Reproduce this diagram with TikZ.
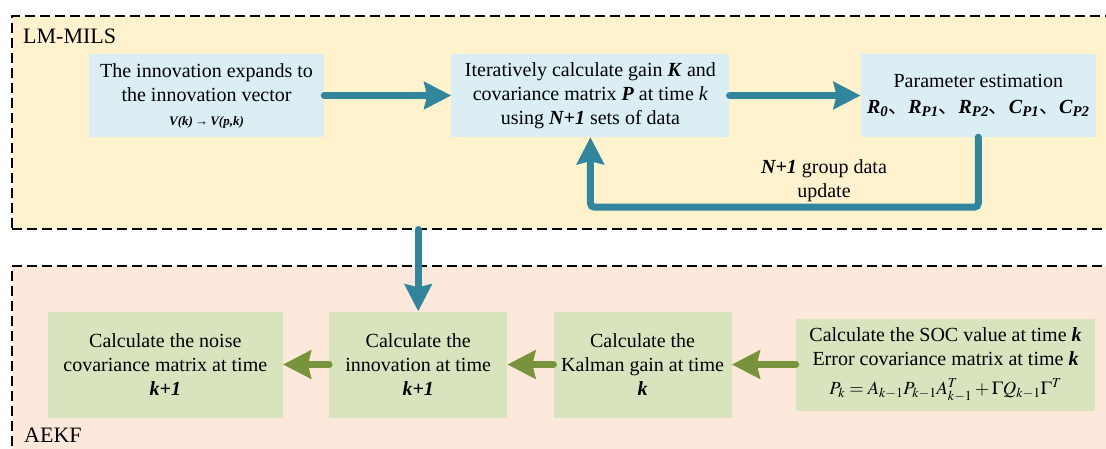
\documentclass[tikz,border=0pt]{standalone}
\usepackage{mathptmx}
\usepackage{fontspec}
\setmainfont{Liberation Serif}
\newfontfamily\cjk{Noto Sans CJK SC}
\usetikzlibrary{positioning,arrows.meta}
\definecolor{milsfill}{HTML}{FFF2CC}
\definecolor{aekffill}{HTML}{FCE9DC}
\definecolor{boxblue}{HTML}{DAEEF3}
\definecolor{boxgreen}{HTML}{D7E4BD}
\definecolor{arrowteal}{HTML}{31859C}
\definecolor{arrowgreen}{HTML}{77933C}
\newcommand{\bdit}[1]{\textbf{\textit{#1}}}
\newcommand{\sep}{{\cjk 、}}

\begin{document}
\begin{tikzpicture}[x=1pt, y=-1pt, font=\fontsize{20}{24}\selectfont,
  group frame/.style = {draw, dash pattern=on 10pt off 5pt, line width=2pt, anchor=north west, inner sep=0pt},
  group label/.style = {anchor=base west, inner sep=0pt, font=\fontsize{22}{26}\selectfont},
  blue box/.style    = {fill=boxblue, align=center, inner sep=0pt, minimum height=83pt},
  green box/.style   = {fill=boxgreen, align=center, inner sep=0pt, minimum height=106pt},
  teal arrow/.style  = {draw=arrowteal, line width=7pt, line cap=round, rounded corners=4pt, -{Stealth[length=27pt, width=27pt, inset=3pt]}},
  green arrow/.style = {draw=arrowgreen, line width=7pt, line cap=round, -{Stealth[length=28pt, width=28pt, inset=3pt]}}]
\useasboundingbox (0,0) rectangle (1106,448);
\node[group frame, fill=milsfill, minimum width=1120pt, minimum height=213pt] (mils) at (10.5,14.5) {};
\node[group frame, fill=aekffill, minimum width=1120pt, minimum height=200pt] (aekf) at (10.5,265)  {};
\node[group label] (mils label) at (23,43)  {LM-MILS};
\node[group label] (aekf label) at (24,442) {AEKF};

\node[blue box, minimum width=235pt]                      (expand)  at (206.5,95.5) {The innovation expands to\\the innovation vector\\{\fontsize{13}{15}\selectfont\bdit{V(k)}\,\textbf{→}\,\bdit{V(p,k)}}};
\node[blue box, minimum width=278pt, right=127pt of expand] (iterate) {Iteratively calculate gain \bdit{K} and\\covariance matrix \bdit{P} at time \textit{k}\\using \bdit{N+1} sets of data};
\node[blue box, minimum width=235pt, right=131pt of iterate] (param)   {Parameter estimation\\[2pt]\bdit{R\textsubscript{0}}\sep\bdit{R\textsubscript{P1}}\sep\bdit{R\textsubscript{P2}}\sep\bdit{C\textsubscript{P1}}\sep\bdit{C\textsubscript{P2}}};
\node[align=center] (update) at (824,181) {\bdit{N+1} group data\\update};

\node[green box, minimum width=299pt, minimum height=92pt] (soc)   at (945.5,364.5) {Calculate the SOC value at time \bdit{k}\\Error covariance matrix at time \bdit{k}\\[5pt]{\fontsize{18.5}{20}\selectfont$P_k=A_{k-1}P_{k-1}A_{k-1}^T+\Gamma Q_{k-1}\Gamma^T$}};
\node[green box, minimum width=178pt, left=64pt of soc]   (gain)  {Calculate the\\Kalman gain at time\\\bdit{k}};
\node[green box, minimum width=178pt, left=46pt of gain]  (innov) {Calculate the\\innovation at time\\\bdit{k+1}};
\node[green box, minimum width=235pt, left=46pt of innov] (noise) {Calculate the noise\\covariance matrix at time\\\bdit{k+1}};

\draw[teal arrow] (expand) -- (iterate);
\draw[teal arrow] (iterate) -- (param);
\draw[teal arrow] (param.south) -- ++(0,70) -| (iterate.south);
\draw[teal arrow] (mils.south -| innov.north) -- (innov.north);
\draw[green arrow] (soc) -- (gain);
\draw[green arrow] (gain) -- (innov);
\draw[green arrow] (innov) -- (noise);
\end{tikzpicture}
\end{document}
